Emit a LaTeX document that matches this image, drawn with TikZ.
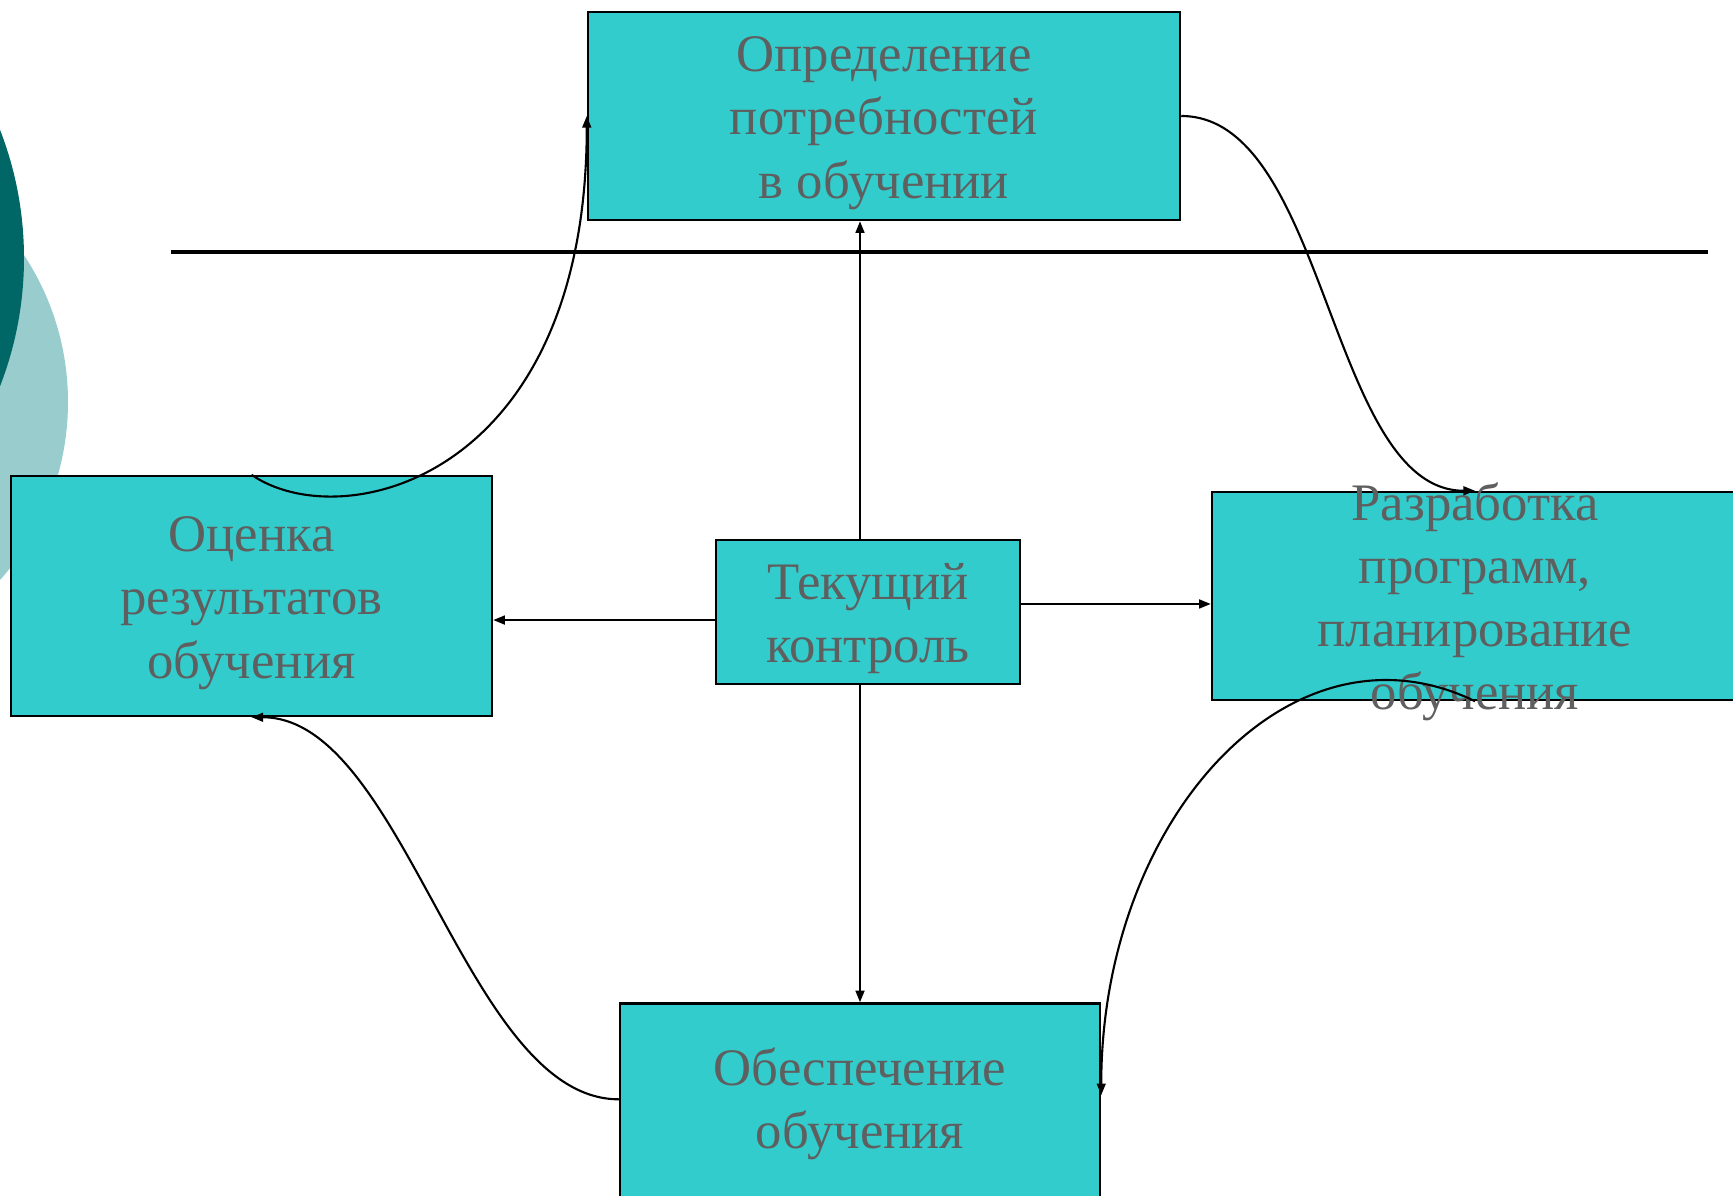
\documentclass[tikz,border=0pt]{standalone}
\usepackage{fontspec}
\setmainfont{Liberation Serif}
\usetikzlibrary{arrows.meta}

\definecolor{cyanbox}{HTML}{33CCCC}
\definecolor{greytext}{HTML}{5F5F5F}
\definecolor{darkteal}{HTML}{006666}
\definecolor{paleteal}{HTML}{99CCCC}

% petit espace au-dessus de la premiere ligne
\newcommand{\topgap}{\rule{0pt}{14pt}}

\begin{document}
\begin{tikzpicture}[
    font=\fontsize{15}{18}\selectfont,
    >={Triangle[length=3.3pt, width=2.5pt]},
    % Style des blocs
    stage/.style={
        rectangle,
        draw=black,
        fill=cyanbox,
        text=greytext,
        line width=0.7pt,
        inner sep=2pt,
        align=center
    },
    stagetext/.style={
        text=greytext,
        align=center
    },
    link/.style={->, line width=0.6pt}
]

    % Cadre de la page
    \useasboundingbox (0,0) rectangle (17.33,-11.95);

    % --- DECOR ---
    \fill[paleteal] (-1.99,-4.02) circle (2.67);
    \fill[darkteal] (-3.29,-2.58) circle (3.53);

    % Ligne horizontale
    \coordinate (sepL) at (1.71,-2.52);
    \coordinate (sepR) at (17.08,-2.52);
    \draw[line width=0.9pt] (sepL) -- (sepR);

    % --- NOEUDS ---
    \node[stage, minimum width=5.92cm, minimum height=2.08cm] (need) at (8.84,-1.16)
        {\topgap Определение\\потребностей\\в обучении};

    \node[stage, minimum width=4.81cm, minimum height=2.40cm] (eval) at (2.515,-5.96)
        {\topgap Оценка\\результатов\\обучения};

    \node[stage, minimum width=3.04cm, minimum height=1.44cm] (ctrl) at (8.68,-6.12)
        {\topgap Текущий\\контроль};

    % Bloc de droite (le texte deborde)
    \node[stage, minimum width=5.26cm, minimum height=2.08cm] (plan) at (14.75,-5.96) {};
    \node[stagetext] (plantext) at (plan.center)
        {\topgap Разработка\\программ,\\планирование\\обучения};

    % Bloc du bas (coupe par le bord)
    \node[stage, minimum width=4.80cm, minimum height=2.00cm] (supply) at (8.60,-11.035)
        {Обеспечение\\обучения};

    % --- LIAISONS / FLECHES ---

    % Controle -> autres blocs
    \draw[link] (ctrl.north -| supply.north) -- (need.south -| supply.north);
    \draw[link] (ctrl.south -| supply.north) -- (supply.north);
    \draw[link] (ctrl.183) -- (ctrl.183 -| eval.east);
    \draw[link] (ctrl.3) -- (ctrl.3 -| plan.west);

    % Cycle (courbes)
    \draw[link] (need.east) .. controls +(1.46,0) and +(-1.46,0) .. (plan.north);
    \draw[link] (plan.south) .. controls +(-1.85,0.9) and +(0,2.75) .. (supply.2);
    \draw[link] (supply.179) .. controls +(-1.53,0) and +(1.53,0) .. (eval.south);
    \draw[link] (eval.north) .. controls +(0.9,-0.62) and +(0,-3.64) .. (need.west);

\end{tikzpicture}
\end{document}
